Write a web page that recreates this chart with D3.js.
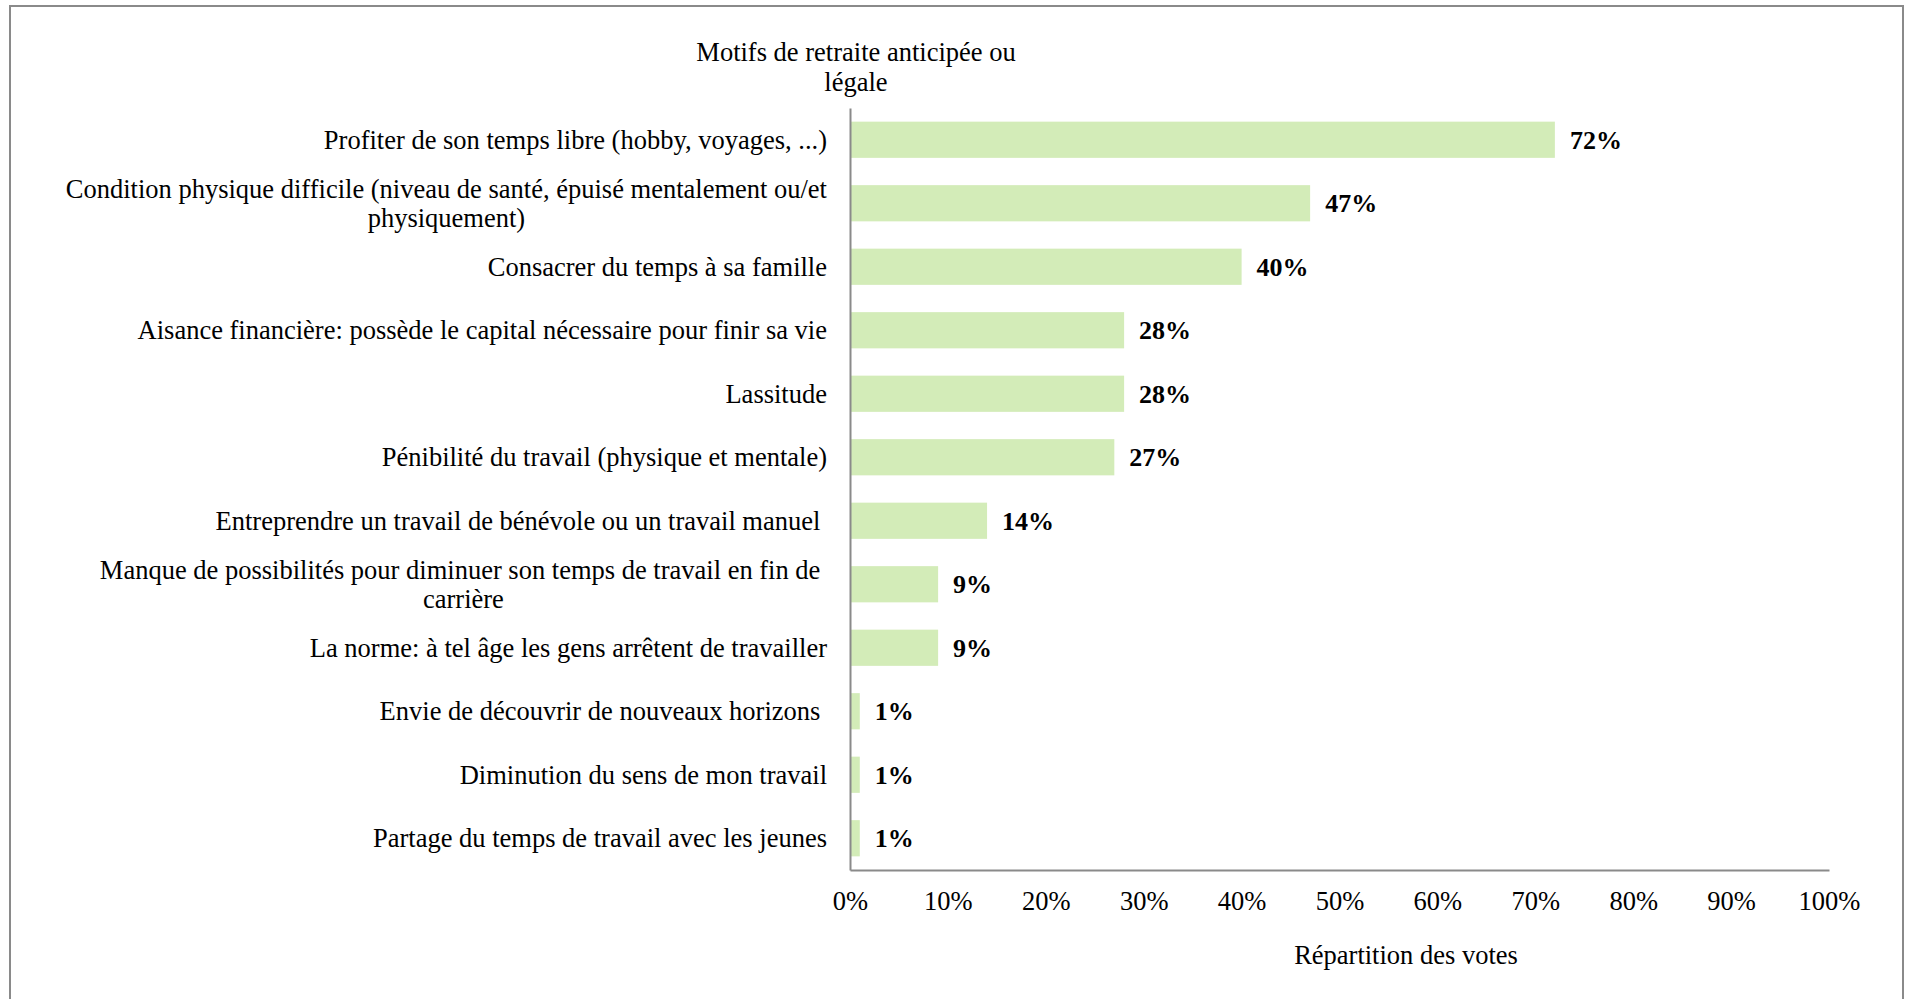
<!DOCTYPE html>
<html>
<head>
<meta charset="utf-8">
<script src="https://cdn.jsdelivr.net/npm/d3@7"></script>
<style>
  html, body { margin: 0; padding: 0; background: #fff; }
  svg { display: block; }
</style>
</head>
<body>
<svg id="chart" width="1907" height="999"></svg>
<script>
// Motifs de départ à la retraite, part des votes (%)
const categories = [
  ["Profiter de son temps libre (hobby, voyages, ...)"],
  ["Condition physique difficile (niveau de santé, épuisé mentalement ou/et", "physiquement)"],
  ["Consacrer du temps à sa famille"],
  ["Aisance financière: possède le capital nécessaire pour finir sa vie"],
  ["Lassitude"],
  ["Pénibilité du travail (physique et mentale)"],
  ["Entreprendre un travail de bénévole ou un travail manuel "],
  ["Manque de possibilités pour diminuer son temps de travail en fin de ", "carrière"],
  ["La norme: à tel âge les gens arrêtent de travailler"],
  ["Envie de découvrir de nouveaux horizons "],
  ["Diminution du sens de mon travail"],
  ["Partage du temps de travail avec les jeunes"]
];
const values = [72, 47, 40, 28, 28, 27, 14, 9, 9, 1, 1, 1];
const xTicks = [0, 10, 20, 30, 40, 50, 60, 70, 80, 90, 100];
const titleLines = ["Motifs de retraite anticipée ou", "légale"];
const xTitle = "Répartition des votes";

const FONT = "'Liberation Serif', 'DejaVu Serif', serif";
const FS = 26.5;
const svg = d3.select("#chart").attr("font-family", FONT);
const plotLeft = 850, plotRight = 1829, plotTop = 108, plotBottom = 870;

// cadre
svg.append("rect")
  .attr("x", 10).attr("y", 6)
  .attr("width", 1893).attr("height", 1100)
  .attr("fill", "none").attr("stroke", "#8a8a8a").attr("stroke-width", 2);

const keys = categories.map((c, i) => i);
const x = d3.scaleLinear().domain([0, 100]).range([plotLeft, plotRight]);
const y = d3.scaleBand().domain(keys).range([plotTop, plotBottom])
  .paddingInner(0.43).paddingOuter(0.215);

// barres
svg.append("g").selectAll("rect")
  .data(keys)
  .join("rect")
  .attr("x", x(0))
  .attr("y", i => y(i))
  .attr("width", i => x(values[i]) - x(0))
  .attr("height", y.bandwidth())
  .attr("fill", "#d3ecb8");

// étiquettes de valeur
svg.append("g").selectAll("text")
  .data(keys)
  .join("text")
  .attr("font-family", FONT)
  .attr("x", i => x(values[i]) + 15)
  .attr("y", i => y(i) + y.bandwidth() / 2 + 9)
  .attr("font-size", 26)
  .attr("font-weight", "bold")
  .text(i => values[i] + "%");

// axe horizontal
const xAxis = svg.append("g")
  .attr("transform", `translate(0,${plotBottom})`)
  .call(d3.axisBottom(x).tickValues(xTicks).tickFormat(d => d + "%")
    .tickSize(0).tickSizeOuter(0).tickPadding(21));
xAxis.attr("font-family", FONT).attr("font-size", FS);
xAxis.select(".domain").attr("stroke", "#8a8a8a").attr("stroke-width", 2);
xAxis.selectAll("text").attr("fill", "#000");

// axe vertical
const yAxis = svg.append("g")
  .attr("transform", `translate(${plotLeft},0)`)
  .call(d3.axisLeft(y).tickFormat("").tickSize(0).tickSizeOuter(0));
yAxis.select(".domain").attr("stroke", "#8a8a8a").attr("stroke-width", 2);

// libellés des catégories (alignés à droite, lignes centrées entre elles)
const labelRight = 827;
const labelG = svg.append("g").attr("font-family", FONT);
keys.forEach(i => {
  const lines = categories[i];
  const cy = y(i) + y.bandwidth() / 2;
  const g = labelG.append("g");
  const lh = 29;
  const texts = lines.map((line, k) => g.append("text")
    .attr("font-size", FS)
    .style("white-space", "pre")
    .attr("y", cy + (k - (lines.length - 1) / 2) * lh + 9)
    .text(line));
  const widths = texts.map(t => t.node().getComputedTextLength());
  const maxW = d3.max(widths);
  const cx = labelRight - maxW / 2;
  texts.forEach(t => t.attr("x", cx).attr("text-anchor", "middle"));
});

// titre de l'axe des catégories
svg.append("g").attr("font-family", FONT).selectAll("text")
  .data(titleLines)
  .join("text")
  .attr("x", 856)
  .attr("y", (d, k) => 61 + k * 29.5)
  .attr("text-anchor", "middle")
  .attr("font-size", FS)
  .text(d => d);

// titre de l'axe des valeurs
svg.append("text")
  .attr("font-family", FONT)
  .attr("x", 1406).attr("y", 964)
  .attr("text-anchor", "middle")
  .attr("font-size", FS)
  .text(xTitle);
</script>
</body>
</html>
